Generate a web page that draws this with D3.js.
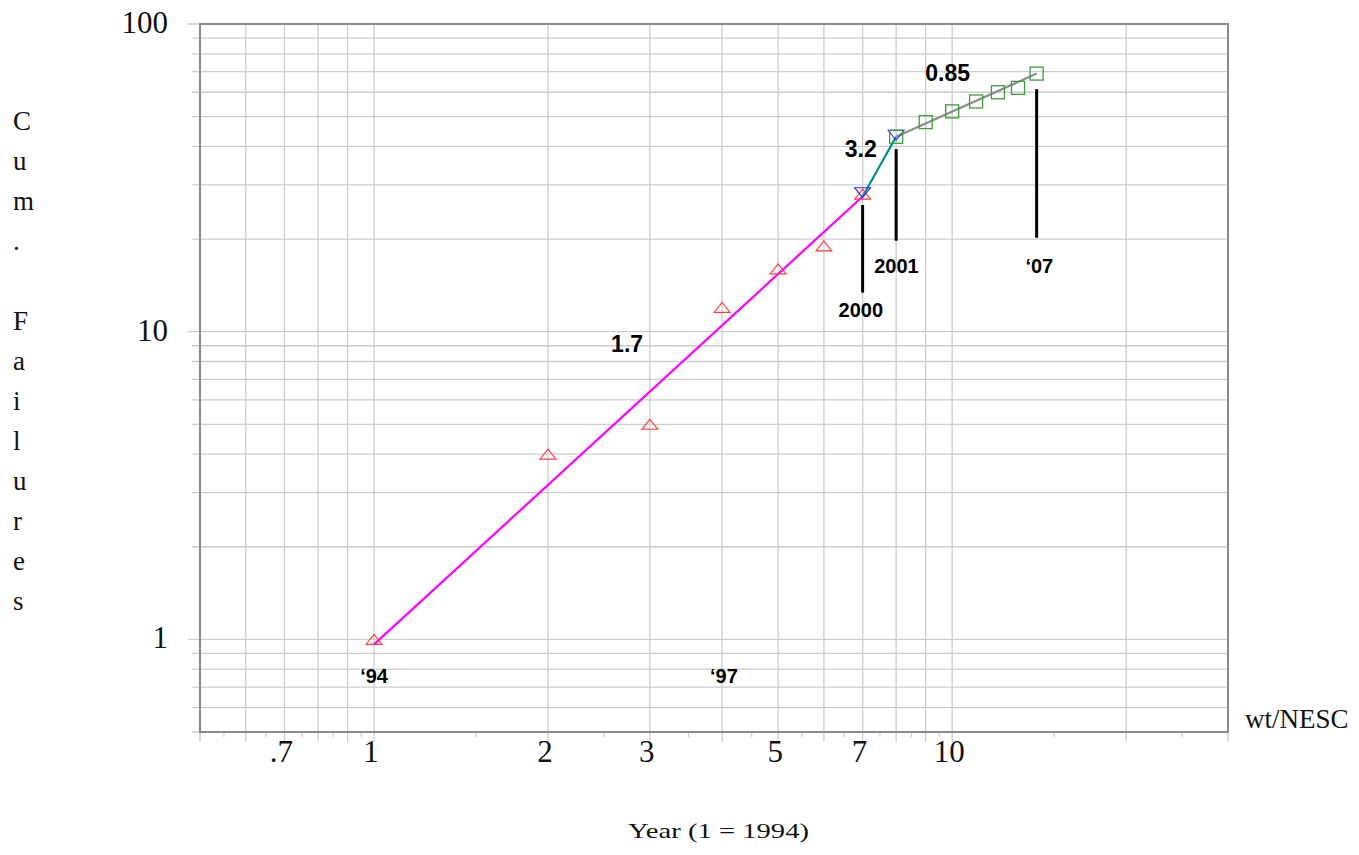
<!DOCTYPE html>
<html>
  <head>
    <meta charset="utf-8">
    <title>Cum. Failures vs Year</title>
    <script src="https://cdn.jsdelivr.net/npm/d3@7"></script>
    <style>
      body { margin: 0; background: #fff; }
      .serif { font-family: "Liberation Serif", "Times New Roman", serif; fill: #111; }
      .note { font-family: "Liberation Sans", Arial, sans-serif; font-weight: bold; fill: #000; }
    </style>
  </head>
  <body>
    <svg id="chart" width="1359" height="855"></svg>

    <script>
      // data (year index, cumulative failures)
      const years94 = [1, 2, 3, 4, 5, 6, 7];
      const fails94 = [1, 4, 5, 12, 16, 19, 28];
      const years00 = [7, 8];
      const fails00 = [28.3, 43.5];
      const years01 = [8, 9, 10, 11, 12, 13, 14];
      const fails01 = [43, 48, 52, 56, 60, 62, 69];

      // fitted lines (end points) and slopes
      const fitMagenta = [[1, 0.963], [7, 27.5]];
      const fitTeal = [[7, 27.5], [8, 43]];
      const fitGray = [[8, 43], [14, 69]];
      const slopeLabels = ["1.7", "3.2", "0.85"];
      const slopeAt = [[2.74, 8.6], [6.95, 36.9], [9.82, 65.4]];

      // year labels and pointers
      const yearLabels = ["\u201894", "\u201897", "2000", "2001", "\u201807"];
      const yearAt = [[1, 0.72], [4.03, 0.72], [6.95, 11.2], [8.01, 15.55], [14.15, 15.55]];
      const pointers = [[7, 25.8, 13.4], [8, 39.2, 19.75], [14, 61.4, 20.2]];

      // axes
      const xTicks = [0.7, 1, 2, 3, 5, 7, 10];
      const xTickText = [".7", "1", "2", "3", "5", "7", "10"];
      const yTicks = [1, 10, 100];
      const yTickText = ["1", "10", "100"];
      const yTitle = "Cum. Failures";

      const svg = d3.select("#chart");
      const x = d3.scaleLog().domain([0.5, 30]).range([200, 1228]);
      const y = d3.scaleLog().domain([0.5, 100]).range([732, 24]);
      const grid = "#cdcdcd";

      // minor ticks below the x axis (half steps)
      const halfTicks = [];
      [0.1, 1, 10].forEach(function(d) {
        for (let k = 1; k < 10; k += 0.5) {
          const v = +(k * d).toFixed(3);
          if (v >= 0.5 && v <= 30 && k % 1 !== 0) halfTicks.push(v);
        }
      });
      svg.append("g").selectAll("line")
        .data(halfTicks)
        .enter().append("line")
          .attr("x1", d => x(d)).attr("x2", d => x(d))
          .attr("y1", 732).attr("y2", 737)
          .attr("stroke", grid).attr("stroke-width", 1.2);

      // grid lines (vertical)
      svg.append("g").selectAll("line")
        .data(x.ticks())
        .enter().append("line")
          .attr("x1", d => x(d)).attr("x2", d => x(d))
          .attr("y1", 24).attr("y2", 742)
          .attr("stroke", grid).attr("stroke-width", 1.3);

      // grid lines (horizontal)
      svg.append("g").selectAll("line")
        .data(y.ticks())
        .enter().append("line")
          .attr("x1", d => yTicks.includes(d) ? 188 : 192).attr("x2", 1228)
          .attr("y1", d => y(d)).attr("y2", d => y(d))
          .attr("stroke", grid).attr("stroke-width", 1.3);

      // frame
      svg.append("rect")
        .attr("x", 200).attr("y", 24)
        .attr("width", 1028).attr("height", 708)
        .attr("fill", "none").attr("stroke", "#8a8a8a").attr("stroke-width", 2);

      // tick labels
      svg.append("g").selectAll("text")
        .data(xTicks)
        .enter().append("text")
          .classed("serif", true)
          .attr("x", d => x(d) - 3).attr("y", 762)
          .attr("text-anchor", "middle")
          .style("font-size", "31px")
          .text((d, i) => xTickText[i]);
      svg.append("g").selectAll("text")
        .data(yTicks)
        .enter().append("text")
          .classed("serif", true)
          .attr("x", 168).attr("y", d => y(d) + 9)
          .attr("text-anchor", "end")
          .style("font-size", "31px")
          .text((d, i) => yTickText[i]);

      // axis titles
      svg.append("g").selectAll("text")
        .data(yTitle.split(""))
        .enter().append("text")
          .classed("serif", true)
          .attr("x", 13).attr("y", (d, i) => 130 + i * 40)
          .style("font-size", "27px")
          .text(d => d);
      svg.append("text")
        .classed("serif", true)
        .attr("x", 628).attr("y", 838)
        .attr("textLength", 181).attr("lengthAdjust", "spacingAndGlyphs")
        .style("font-size", "22px")
        .text("Year (1 = 1994)");
      svg.append("text")
        .classed("serif", true)
        .attr("x", 1245).attr("y", 728)
        .style("font-size", "27px")
        .text("wt/NESC");

      // fitted lines
      const line = d3.line().x(d => x(d[0])).y(d => y(d[1]));
      [[fitMagenta, "#ff00ff"], [fitTeal, "#008b8b"], [fitGray, "#8c8c8c"]].forEach(function(f) {
        svg.append("path")
          .attr("d", line(f[0]))
          .attr("fill", "none")
          .attr("stroke", f[1])
          .attr("stroke-width", 2.2);
      });

      // markers
      const tri = function(cx, cy, dir) {
        return "M" + (cx - 8) + "," + (cy + 5 * dir) + "L" + (cx + 8) + "," + (cy + 5 * dir) +
          "L" + cx + "," + (cy - 5 * dir) + "Z";
      };
      svg.append("g").selectAll("path")
        .data(years94)
        .enter().append("path")
          .attr("d", (d, i) => tri(x(d), y(fails94[i]), 1))
          .attr("fill", "none").attr("stroke", "#ff3a3a").attr("stroke-width", 1.1);
      svg.append("g").selectAll("path")
        .data(years00)
        .enter().append("path")
          .attr("d", (d, i) => tri(x(d), y(fails00[i]), -1))
          .attr("fill", "none").attr("stroke", "#2a2aff").attr("stroke-width", 1.1);
      svg.append("g").selectAll("rect")
        .data(years01)
        .enter().append("rect")
          .attr("x", d => x(d) - 6.5)
          .attr("y", (d, i) => y(fails01[i]) - 6.5)
          .attr("width", 13).attr("height", 13)
          .attr("fill", "none").attr("stroke", "#3a9e3a").attr("stroke-width", 1.3);

      // pointers
      svg.append("g").selectAll("line")
        .data(pointers)
        .enter().append("line")
          .attr("x1", d => x(d[0])).attr("x2", d => x(d[0]))
          .attr("y1", d => y(d[1])).attr("y2", d => y(d[2]))
          .attr("stroke", "#000").attr("stroke-width", 3);

      // annotations
      svg.append("g").selectAll("text")
        .data(slopeLabels)
        .enter().append("text")
          .classed("note", true)
          .attr("x", (d, i) => x(slopeAt[i][0]))
          .attr("y", (d, i) => y(slopeAt[i][1]))
          .attr("text-anchor", "middle")
          .style("font-size", "23px")
          .text(d => d);
      svg.append("g").selectAll("text")
        .data(yearLabels)
        .enter().append("text")
          .classed("note", true)
          .attr("x", (d, i) => x(yearAt[i][0]))
          .attr("y", (d, i) => y(yearAt[i][1]))
          .attr("text-anchor", "middle")
          .style("font-size", "20px")
          .text(d => d);
    </script>
  </body>
</html>
